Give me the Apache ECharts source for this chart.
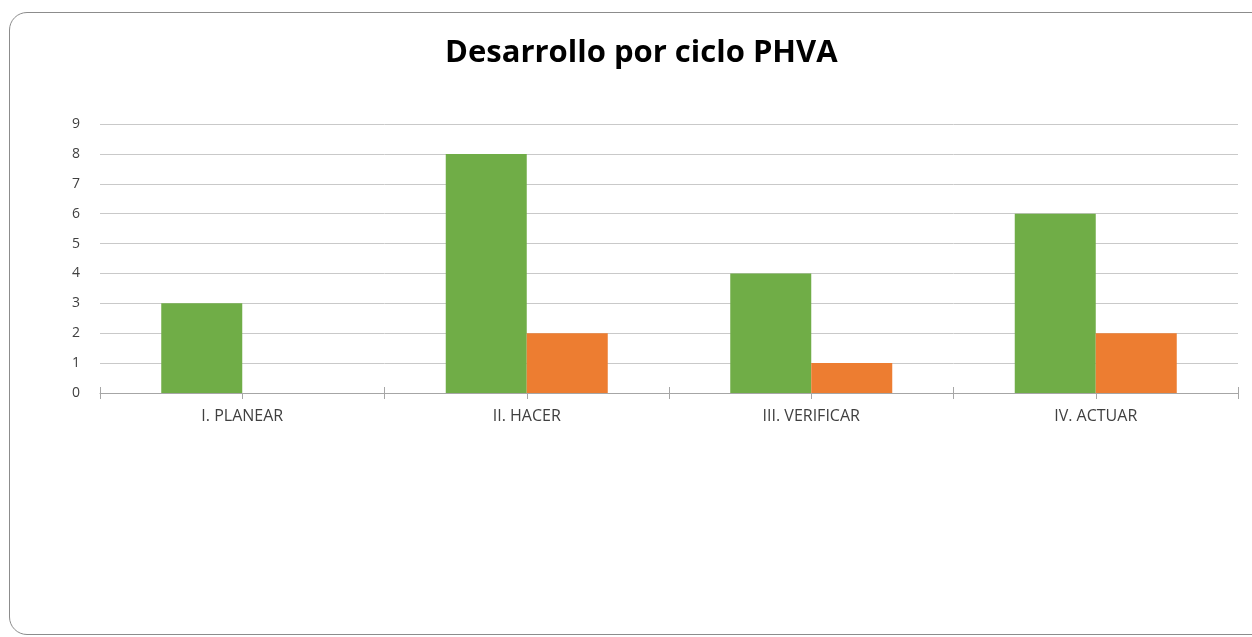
<!DOCTYPE html>
<html>
<head>
<meta charset="utf-8">
<script src="https://cdn.jsdelivr.net/npm/echarts@6/dist/echarts.min.js"></script>
<style>
  html, body { margin: 0; padding: 0; background: #fff; overflow: hidden; }
  #frame {
    position: absolute; left: 9px; top: 12px; width: 1262px; height: 623px;
    border: 1.5px solid #8c8c8c; border-radius: 18px; box-sizing: border-box;
  }
  #chart { position: absolute; left: 0; top: 0; width: 1252px; height: 637px; }
</style>
</head>
<body>
<div id="frame"></div>
<div id="chart"></div>
<script>
const categories = ['I. PLANEAR', 'II. HACER', 'III. VERIFICAR', 'IV. ACTUAR'];
const serieVerde = [3, 8, 4, 6];
const serieNaranja = [0, 2, 1, 2];

const chart = echarts.init(document.getElementById('chart'), null, { renderer: 'canvas' });

const font = "Open Sans, 'Liberation Sans', sans-serif";
const axisGray = '#a6a6a6';
const gridTop = 124, gridBottom = 244;
const gridHeight = 637 - gridTop - gridBottom;

// each category split in two halves, so the helper axis ticks hit the bar centres too
const halves = categories.flatMap(c => [c + ' a', c + ' b']);

const option = {
    animation: false,
    title: {
        text: 'Desarrollo por ciclo PHVA',
        left: 440,
        top: 33,
        textStyle: { fontFamily: font, fontSize: 31, fontWeight: 'bold', color: '#000' },
    },
    grid: { left: 100, right: 14, top: gridTop, bottom: gridBottom },
    xAxis: [
        {
            type: 'category',
            data: categories,
            position: 'bottom',
            axisLine: { show: true, lineStyle: { color: axisGray, width: 1 } },
            axisTick: { show: true, inside: true, length: 6, lineStyle: { color: axisGray } },
            axisLabel: { margin: 15, color: '#404040', fontFamily: font, fontSize: 16 },
        },
        {
            // helper axis moved down onto the bottom line, ticks pointing down
            type: 'category',
            data: halves,
            show: true,
            position: 'top',
            offset: -gridHeight,
            axisLine: { show: true, lineStyle: { color: 'rgba(0,0,0,0)' } },
            axisTick: { show: true, inside: true, length: 6, interval: 0, lineStyle: { color: axisGray } },
            axisLabel: { show: false },
            splitLine: { show: false },
        },
    ],
    yAxis: {
        type: 'value',
        min: 0,
        max: 9,
        interval: 1,
        axisLine: { show: false },
        axisTick: { show: false },
        axisLabel: { margin: 20, color: '#404040', fontFamily: font, fontSize: 14 },
        splitLine: { lineStyle: { color: '#c9c9c9', width: 1 } },
    },
    series: [
        {
            name: 'Serie 1',
            type: 'bar',
            data: serieVerde,
            barWidth: 81,
            barGap: '0%',
            itemStyle: { color: '#70ad47' },
        },
        {
            name: 'Serie 2',
            type: 'bar',
            data: serieNaranja,
            barWidth: 81,
            barGap: '0%',
            itemStyle: { color: '#ed7d31' },
        },
        {
            // holds the helper axis; draws nothing
            type: 'line',
            xAxisIndex: 1,
            data: halves.map(() => null),
            showSymbol: false,
            silent: true,
        },
    ],
};

chart.setOption(option);
</script>
</body>
</html>
